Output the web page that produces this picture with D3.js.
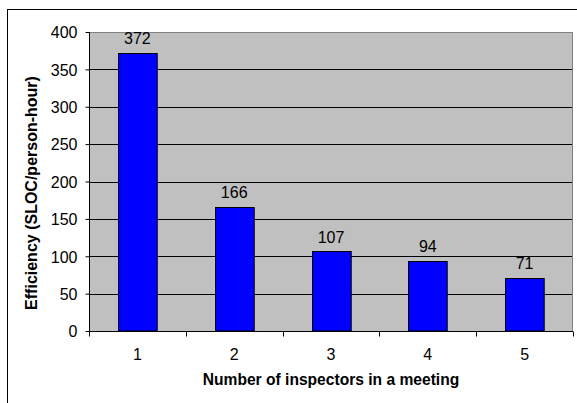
<!DOCTYPE html>
<html>
<head>
<meta charset="utf-8">
<script src="https://cdn.jsdelivr.net/npm/d3@7"></script>
<style>
  html, body { margin: 0; padding: 0; background: #fff; }
  svg { display: block; }
  text { font-family: "Liberation Sans", Arial, sans-serif; fill: #000; }
</style>
</head>
<body>
<svg id="chart" width="577" height="403"></svg>
<script>
// Inspection efficiency by meeting size
const categories = ["1", "2", "3", "4", "5"];
const efficiency = [372, 166, 107, 94, 71];
const yTicks = [0, 50, 100, 150, 200, 250, 300, 350, 400];

const svg = d3.select("#chart");
const W = 577, H = 403;
const plot = { left: 89, top: 32, right: 573, bottom: 331 };
const labelSize = 16;

// outer chart frame (runs past the right/bottom edges)
svg.append("rect")
  .attr("x", 7.5).attr("y", 9.5)
  .attr("width", W).attr("height", H)
  .attr("fill", "#fff").attr("stroke", "#000").attr("stroke-width", 1);

const x = d3.scaleBand()
  .domain(categories)
  .range([plot.left, plot.right])
  .paddingInner(0.6).paddingOuter(0.3);

const xOuter = d3.scaleBand()
  .domain(categories)
  .range([plot.left, plot.right]);

const y = d3.scaleLinear()
  .domain([0, 400])
  .range([plot.bottom, plot.top]);

// plot area background
svg.append("rect")
  .attr("x", plot.left).attr("y", plot.top)
  .attr("width", plot.right - plot.left).attr("height", plot.bottom - plot.top)
  .attr("fill", "#c0c0c0");

// gridlines
svg.append("g")
  .selectAll("line")
  .data(yTicks.filter(d => d > 0 && d < 400))
  .join("line")
  .attr("x1", plot.left).attr("x2", plot.right)
  .attr("y1", d => Math.round(y(d)) + 0.5).attr("y2", d => Math.round(y(d)) + 0.5)
  .attr("stroke", "#000").attr("stroke-width", 1);

// plot area top/right border
svg.append("path")
  .attr("d", `M${plot.left},${plot.top + 0.5}H${plot.right - 0.5}V${plot.bottom}`)
  .attr("fill", "none").attr("stroke", "#808080").attr("stroke-width", 1);

// bars
svg.append("g")
  .selectAll("rect")
  .data(efficiency)
  .join("rect")
  .attr("x", (d, i) => Math.round(x(categories[i])) + 0.5)
  .attr("y", d => Math.round(y(d)) + 0.5)
  .attr("width", x.bandwidth())
  .attr("height", d => plot.bottom - Math.round(y(d)) - 0.5)
  .attr("fill", "#0000ff")
  .attr("stroke", "#000").attr("stroke-width", 1);

// value labels
svg.append("g")
  .selectAll("text")
  .data(efficiency)
  .join("text")
  .attr("x", (d, i) => x(categories[i]) + x.bandwidth() / 2)
  .attr("y", d => y(d) - 8.5)
  .attr("text-anchor", "middle")
  .attr("font-size", labelSize)
  .text(d => d);

// y axis
const yAxis = d3.axisLeft(y).tickValues(yTicks).tickSize(4).tickPadding(8);
const gy = svg.append("g")
  .attr("transform", `translate(${plot.left + 0.5},0)`)
  .call(yAxis);
gy.selectAll("text")
  .attr("font-size", labelSize)
  .attr("font-family", "Liberation Sans, Arial, sans-serif")
  .attr("dy", "0.36em");
gy.selectAll("line, path").attr("stroke", "#000");
gy.select(".domain").attr("d", `M0,${plot.top}V${plot.bottom + 0.5}`);

// x axis: ticks at category boundaries, labels at centers
const gx = svg.append("g").attr("transform", `translate(0,${plot.bottom + 0.5})`);
gx.append("line")
  .attr("x1", plot.left).attr("x2", plot.right)
  .attr("stroke", "#000");
gx.selectAll("line.tick")
  .data(categories.map(c => xOuter(c)).concat([plot.right]))
  .join("line")
  .attr("class", "tick")
  .attr("x1", d => Math.round(d) + 0.5).attr("x2", d => Math.round(d) + 0.5)
  .attr("y1", 0).attr("y2", 5)
  .attr("stroke", "#000");
gx.selectAll("text")
  .data(categories)
  .join("text")
  .attr("x", d => xOuter(d) + xOuter.bandwidth() / 2)
  .attr("y", 28.5)
  .attr("text-anchor", "middle")
  .attr("font-size", labelSize)
  .text(d => d);

// axis titles
svg.append("text")
  .attr("x", (plot.left + plot.right) / 2)
  .attr("y", 385)
  .attr("text-anchor", "middle")
  .attr("font-size", 15.6).attr("font-weight", "bold")
  .text("Number of inspectors in a meeting");

svg.append("text")
  .attr("transform", `translate(37,193) rotate(-90)`)
  .attr("text-anchor", "middle")
  .attr("font-size", 16).attr("font-weight", "bold")
  .text("Efficiency (SLOC/person-hour)");
</script>
</body>
</html>
